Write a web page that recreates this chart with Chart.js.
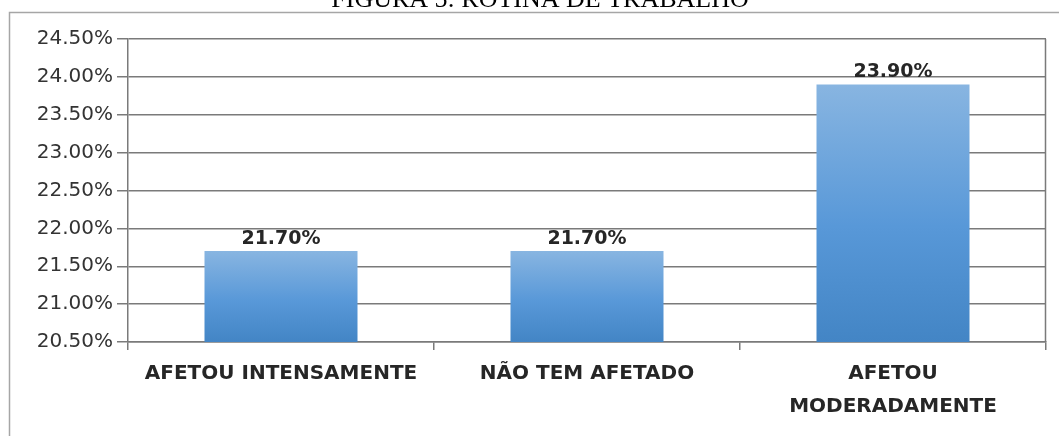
<!DOCTYPE html>
<html>
<head>
<meta charset="utf-8">
<script src="https://cdn.jsdelivr.net/npm/chart.js"></script>
<style>
  body { margin: 0; background: #fff; }
  canvas { display: block; }
</style>
</head>
<body>
<canvas id="chart" width="1059" height="436"></canvas>
<script>
// Data
const title = "FIGURA 5: ROTINA DE TRABALHO";
const categories = [
  "AFETOU INTENSAMENTE",
  "NÃO TEM AFETADO",
  ["AFETOU", "MODERADAMENTE"]
];
const values = [21.70, 21.70, 23.90];
const yMin = 20.5, yMax = 24.5, yStep = 0.5;

const lineColor = "#7a7a7a";

// per-bar vertical gradient, light at top, darker at bottom
function barFill(ctx) {
  const chart = ctx.chart;
  if (!chart.chartArea || ctx.dataIndex === undefined) return "#5b9bd5";
  const y = chart.scales.y;
  const top = y.getPixelForValue(values[ctx.dataIndex]);
  const bottom = chart.chartArea.bottom;
  const g = chart.ctx.createLinearGradient(0, top, 0, bottom);
  g.addColorStop(0, "#88b5e1");
  g.addColorStop(0.55, "#5898d8");
  g.addColorStop(1, "#4385c5");
  return g;
}

// frame, title, right border of plot
const decor = {
  id: "decor",
  beforeDraw(chart) {
    const c = chart.ctx;
    c.save();
    c.fillStyle = "#fff";
    c.fillRect(0, 0, chart.width, chart.height);
    c.fillStyle = "#000";
    c.font = "26px 'Liberation Serif'";
    c.textAlign = "center";
    c.textBaseline = "alphabetic";
    c.fillText(title, 540, 7);
    c.strokeStyle = "#a6a6a6";
    c.lineWidth = 1.5;
    c.beginPath();
    c.moveTo(9.5, chart.height);
    c.lineTo(9.5, 12.5);
    c.lineTo(chart.width, 12.5);
    c.stroke();
    c.restore();
  },
  afterDraw(chart) {
    const a = chart.chartArea;
    const c = chart.ctx;
    c.save();
    c.strokeStyle = lineColor;
    c.lineWidth = 1.5;
    c.beginPath();
    c.moveTo(a.right - 0.5, a.top);
    c.lineTo(a.right - 0.5, a.bottom);
    c.stroke();
    c.restore();
  }
};

// value labels above bars
const valueLabels = {
  id: "valueLabels",
  afterDatasetsDraw(chart) {
    const c = chart.ctx;
    const meta = chart.getDatasetMeta(0);
    c.save();
    c.fillStyle = "#262626";
    c.font = "bold 19px 'DejaVu Sans'";
    c.textAlign = "center";
    c.textBaseline = "alphabetic";
    meta.data.forEach((bar, i) => {
      c.fillText(values[i].toFixed(2) + "%", bar.x, bar.y - 7);
    });
    c.restore();
  }
};

new Chart(document.getElementById("chart"), {
  type: "bar",
  data: {
    labels: categories,
    datasets: [{
      data: values,
      backgroundColor: barFill,
      borderWidth: 0,
      barPercentage: 0.5,
      categoryPercentage: 1
    }]
  },
  options: {
    responsive: false,
    animation: false,
    layout: { padding: { top: 39, right: 13, left: 0, bottom: 0 } },
    plugins: {
      legend: { display: false },
      tooltip: { enabled: false }
    },
    scales: {
      x: {
        offset: true,
        grid: {
          offset: true,
          drawOnChartArea: false,
          drawTicks: true,
          tickLength: 8,
          lineWidth: 1.5,
          color: lineColor
        },
        border: { color: lineColor, width: 1.5 },
        ticks: {
          color: "#262626",
          font: { family: "'DejaVu Sans'", size: 20, weight: "bold", lineHeight: 1.65 },
          padding: 7.5,
          maxRotation: 0,
          autoSkip: false
        },
        afterFit(scale) { scale.height = 94; }
      },
      y: {
        min: yMin,
        max: yMax,
        grid: {
          color: lineColor,
          lineWidth: 1.5,
          tickLength: 11
        },
        border: { color: lineColor, width: 1.5 },
        ticks: {
          stepSize: yStep,
          color: "#333",
          padding: 4,
          font: { family: "'DejaVu Sans'", size: 20 },
          callback: v => v.toFixed(2) + "%"
        },
        afterFit(scale) { scale.width = 128; }
      }
    }
  },
  plugins: [decor, valueLabels]
});
</script>
</body>
</html>
